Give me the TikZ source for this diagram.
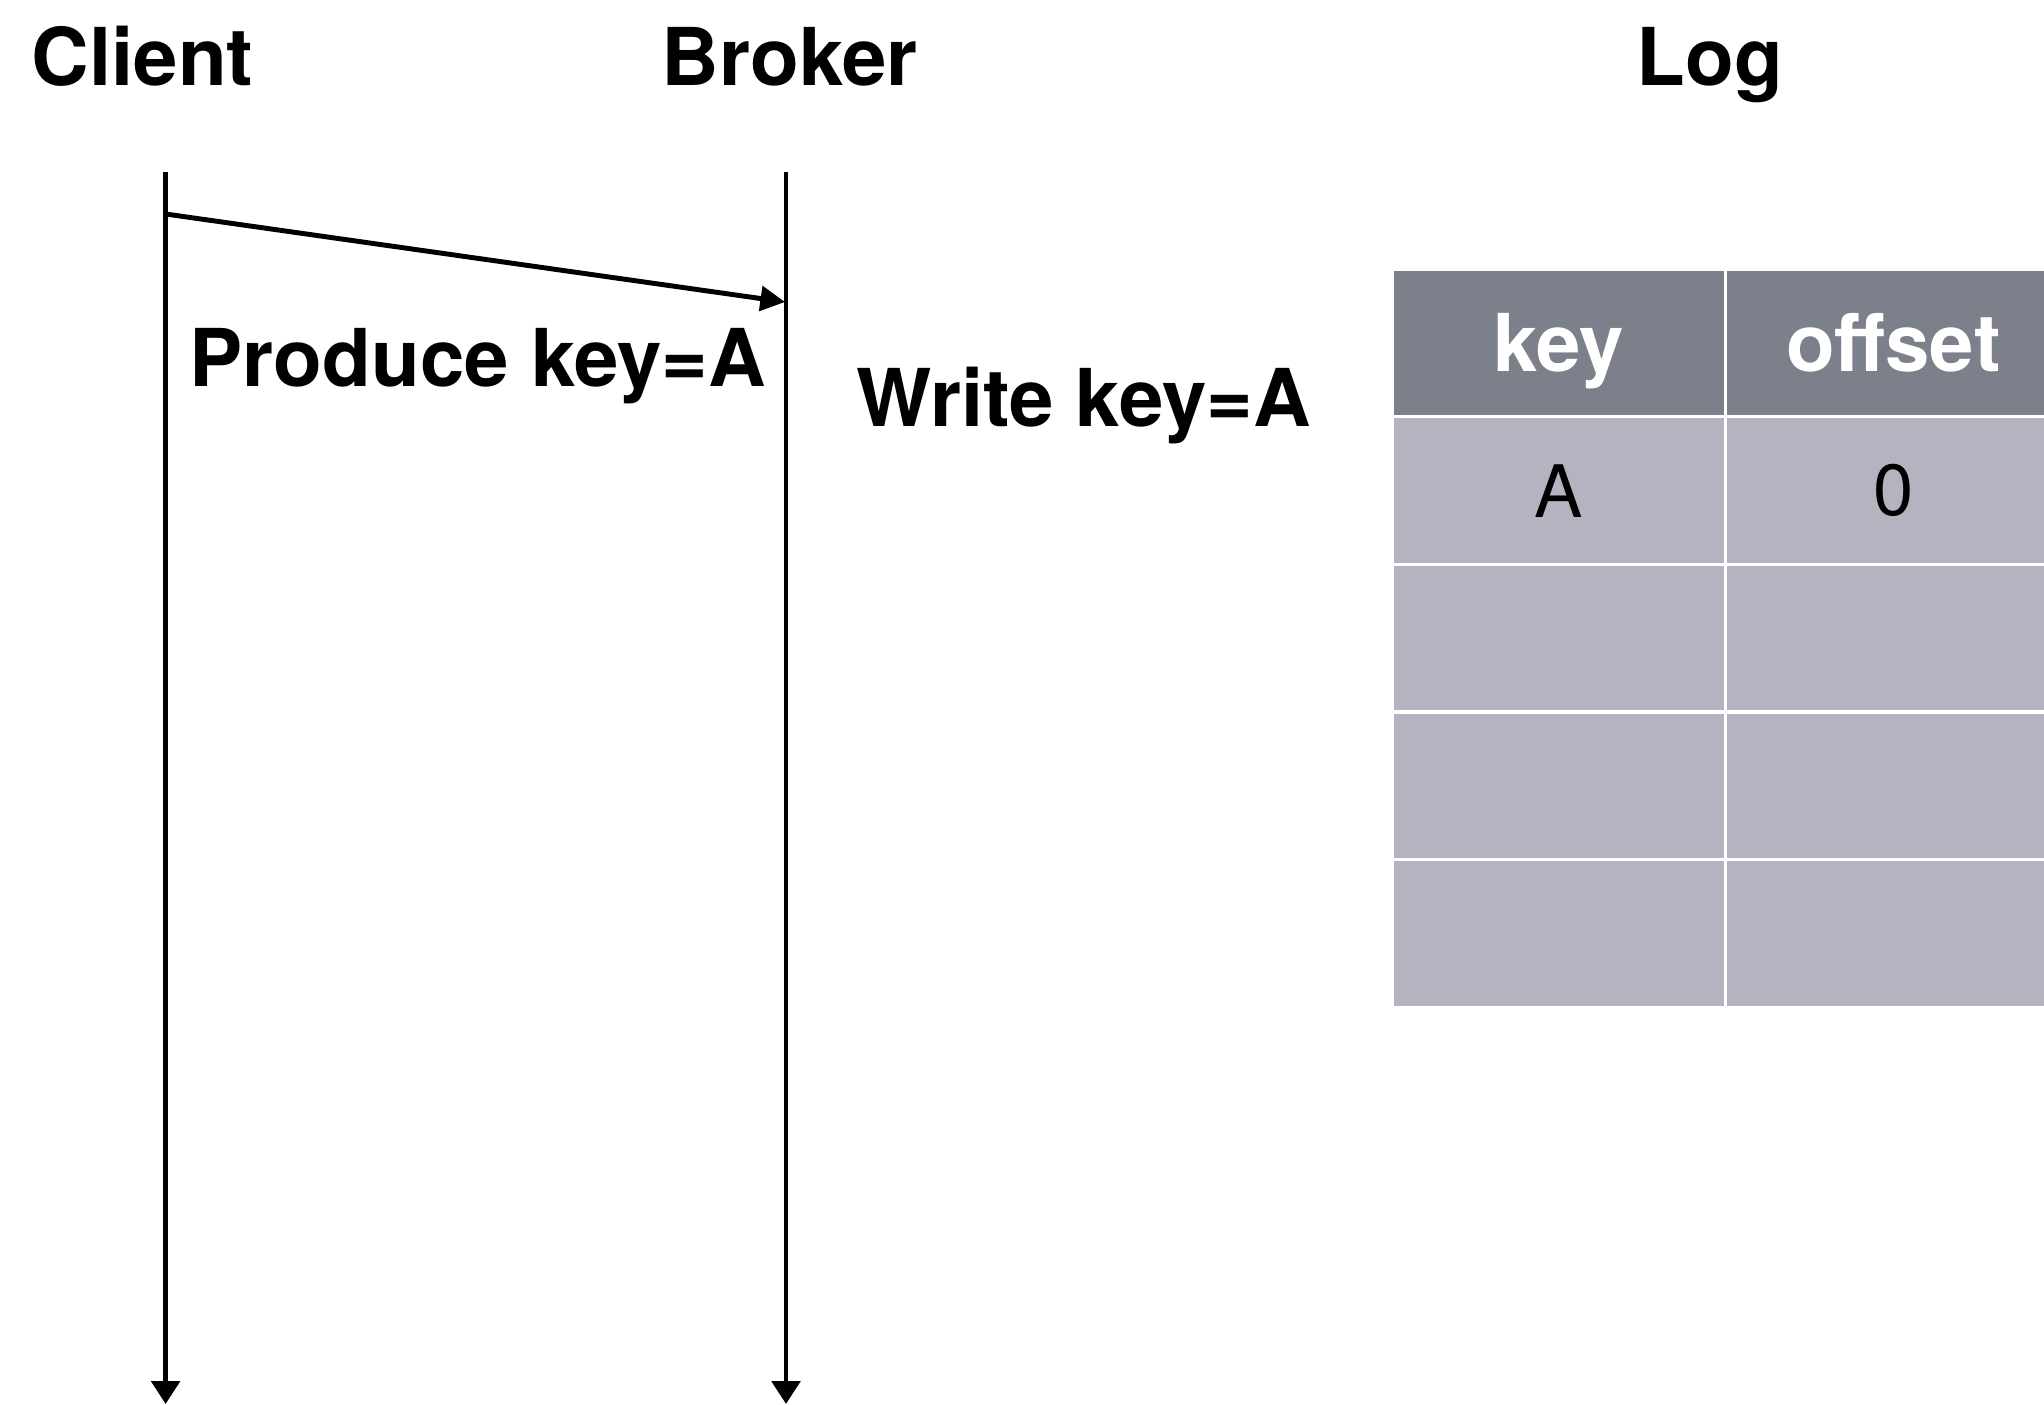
\documentclass[tikz,border=0pt]{standalone}
\usepackage{fontspec}
\setmainfont{TeX Gyre Heros}
\usepackage{xcolor}
\usetikzlibrary{arrows.meta, positioning}
\definecolor{headgray}{HTML}{7B808A}
\definecolor{rowgray}{HTML}{B4B4C0}
\tikzset{
    bigbold/.style = {font = \fontsize{22.7}{27}\selectfont\bfseries},
    title/.style = {bigbold, anchor = base west, inner sep = 0pt},
    lifeline/.style = {line width = 1.4pt, -{Triangle[length = 6.5pt, width = 8pt]}},
    cellone/.style = {minimum width = 33mm, minimum height = 14.45mm, inner sep = 0pt, fill = rowgray},
    celltwo/.style = {cellone, minimum width = 33.35mm},
    headtext/.style = {bigbold, text = white, text height = 16.3pt, text depth = 0pt},
    celltext/.style = {font = \fontsize{20.6}{24}\selectfont}
}

\begin{document}
\begin{tikzpicture}[x = 0.1mm, y = -0.1mm]
    \useasboundingbox (0,0) rectangle (2044,1405);
    % Titoli
    \node[title] (client) at (31,86){Client};
    \node[title] (broker) at (661,86){Broker};
    \node[title] (log) at (1636,86){Log};
    % Linee della vita
    \coordinate (cltop) at (165.6,172);
    \coordinate (clbot) at (165.6,1404);
    \coordinate (brtop) at (786,172);
    \coordinate (brbot) at (786,1404);
    \draw[lifeline] (cltop) -- (clbot);
    \draw[lifeline] (brtop) -- (brbot);
    % Messaggio
    \coordinate (msgstart) at (165.6,214);
    \coordinate (msgend) at (785,302);
    \draw[lifeline, -{Triangle[length = 7pt, width = 7pt]}] (msgstart) -- (msgend);
    \node[title] (produce) at (189,387){Produce key=A};
    \node[title] (write) at (856,427){Write key=A};
    % Tabella del log
    \begin{scope}
        \clip (0,0) rectangle (2044,1405);
        \node[cellone, fill = headgray, headtext] (hkey) at (1558.5,343.25){key};
        \node[celltwo, fill = headgray, headtext] (hoffset) at (1893.25,343.25){offset};
        \node[cellone, celltext] (keyone) at (1558.5,490.75){A};
        \node[celltwo, celltext] (offone) at (1893.25,490.75){0};
        \node[cellone] (keytwo) at (1558.5,638.25){};
        \node[celltwo] (offtwo) at (1893.25,638.25){};
        \node[cellone] (keythree) at (1558.5,785.75){};
        \node[celltwo] (offthree) at (1893.25,785.75){};
        \node[cellone] (keyfour) at (1558.5,933.25){};
        \node[celltwo] (offfour) at (1893.25,933.25){};
    \end{scope}
\end{tikzpicture}
\end{document}
